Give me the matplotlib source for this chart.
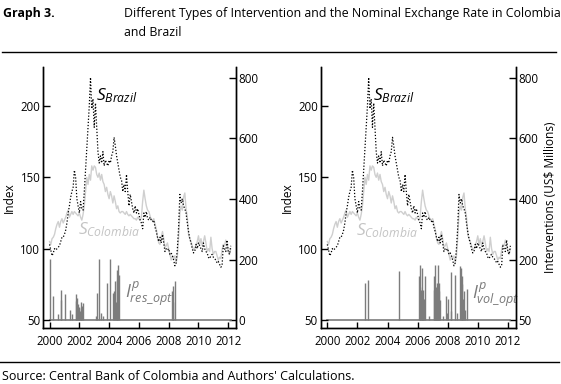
import numpy as np
import matplotlib
matplotlib.use("Agg")
import matplotlib.pyplot as plt

plt.rcParams['font.family'] = ['Open Sans', 'DejaVu Sans']
plt.rcParams['mathtext.fontset'] = 'custom'
plt.rcParams['mathtext.rm'] = 'Open Sans'
plt.rcParams['mathtext.it'] = 'Open Sans:italic'

# ---------------- data ----------------
brazil = [103, 99, 95, 97, 100, 99, 100, 101, 102, 105, 108, 108,
          110, 113, 118, 125, 130, 136, 140, 143, 155, 150, 135, 130,
          125, 133, 128, 127, 140, 155, 170, 185, 200, 220, 198, 205,
          185, 202, 185, 168, 160, 165, 160, 168, 158, 162, 160, 158,
          162, 160, 165, 168, 178, 172, 165, 160, 155, 150, 148, 140,
          145, 140, 152, 140, 130, 138, 133, 128, 125, 130, 125, 128,
          124, 120, 118, 114, 125, 122, 126, 121, 120, 122, 120, 119,
          120, 115, 112, 108, 105, 108, 104, 110, 104, 98, 100, 99,
          100, 96, 97, 95, 92, 88, 90, 100, 115, 138, 132, 135,
          130, 128, 125, 118, 112, 107, 104, 100, 97, 98, 103, 100,
          104, 102, 100, 98, 104, 100, 98, 97, 94, 93, 95, 96,
          94, 93, 92, 90, 91, 89, 87, 88, 102, 100, 98, 106,
          98, 96, 102]
colombia = [105, 103, 107, 108, 110, 114, 117, 119, 115, 119, 121, 118,
            120, 122, 125, 127, 122, 124, 126, 124, 126, 125, 124, 123,
            125, 122, 120, 124, 130, 140, 150, 145, 152, 148, 158, 155,
            158, 157, 152, 150, 153, 148, 152, 147, 145, 140, 143, 138,
            135, 140, 137, 132, 137, 133, 128, 130, 126, 125, 126, 126,
            125, 124, 126, 124, 123, 124, 123, 122, 121, 121, 120, 122,
            121, 120, 122, 133, 141, 135, 130, 127, 126, 123, 120, 120,
            121, 117, 114, 108, 104, 103, 108, 112, 107, 101, 102, 104,
            100, 96, 92, 95, 93, 95, 90, 95, 108, 125, 130, 127,
            136, 139, 128, 122, 110, 107, 105, 102, 99, 100, 102, 105,
            109, 103, 107, 102, 105, 109, 104, 98, 100, 98, 108, 100,
            96, 98, 98, 95, 92, 94, 93, 99, 103, 102, 106, 104,
            98, 96, 100]
dates = 2000 + np.arange(len(brazil)) / 12.0

res_x = [2000.03, 2000.20, 2000.54, 2000.76, 2000.80, 2001.07, 2001.37, 2001.52,
         2001.75, 2001.80, 2001.86, 2001.93, 2002.00, 2002.04, 2002.09, 2002.14,
         2002.20, 2002.27, 2003.09, 2003.16, 2003.34, 2003.43, 2003.57, 2003.84,
         2004.06, 2004.24, 2004.35, 2004.42, 2004.46, 2004.51, 2004.55, 2004.60,
         2004.64, 2008.23, 2008.28, 2008.32, 2008.41]
res_h = [201, 79, 21, 68, 98, 85, 35, 21,
         86, 62, 73, 52, 43, 30, 59, 40,
         46, 57, 13, 90, 203, 24, 13, 123,
         203, 90, 95, 128, 60, 134, 167, 183,
         150, 95, 60, 112, 130]

vol_x = [2002.50, 2002.70, 2004.78,
         2006.12, 2006.16, 2006.19, 2006.23, 2006.26, 2006.29, 2006.32, 2006.36,
         2006.39, 2006.42, 2006.47, 2006.73,
         2007.08, 2007.12, 2007.15, 2007.18, 2007.21, 2007.25, 2007.28, 2007.31,
         2007.34, 2007.38, 2007.41, 2007.45, 2007.50, 2007.67, 2007.87, 2007.93,
         2008.02, 2008.19, 2008.25, 2008.51, 2008.62, 2008.82, 2008.91, 2008.94,
         2008.97, 2009.02, 2009.08, 2009.14, 2009.27]
vol_h = [121, 131, 163,
         145, 183, 110, 99, 90, 172, 60, 70,
         100, 70, 145, 15,
         145, 100, 183, 80, 96, 110, 122, 90,
         183, 70, 96, 122, 68, 15, 79, 25,
         70, 160, 30, 150, 25, 180, 172, 120,
         145, 70, 96, 35, 103]

left_ticks = [50, 100, 150, 200]
right_ticks = [0, 200, 400, 600, 800]
right_labels_a = ['0', '200', '400', '600', '800']
right_labels_b = ['50', '200', '400', '600', '800']
year_ticks = [2000, 2002, 2004, 2006, 2008, 2010, 2012]

# ---------------- figure ----------------
W, H = 561, 384
fig = plt.figure(figsize=(W / 100, H / 100), dpi=100)


def fx(px):
    return px / W


def fy(py):
    return 1 - py / H


BAR_C = '#7c7c7c'
COL_C = '#cfcfcf'


def panel(x0, x1, bx, bh, rlabels, ilabel, ipos, sb_pos, sc_pos, right_ylabel):
    ax = fig.add_axes([fx(x0), fy(328), fx(x1 - x0), (328 - 67) / H])
    ax2 = ax.twinx()
    ax.set_zorder(ax2.get_zorder() + 1)
    ax.patch.set_visible(False)

    ax2.plot(dates, np.zeros_like(dates), color=BAR_C, lw=1.2)
    ax2.vlines(bx, 0, bh, color=BAR_C, lw=1.0)

    ax.plot(dates, colombia, color=COL_C, lw=1.0)
    ax.plot(dates, brazil, color='black', lw=0.9, ls=(0, (1.0, 1.5)))

    ax.set_xlim(1999.56, 2012.52)
    ax.set_ylim(44.4, 227.3)
    ax2.set_ylim(-26, 836)

    for a in (ax, ax2):
        a.spines['top'].set_visible(False)
        for s in a.spines.values():
            s.set_linewidth(1.0)
    ax.set_yticks(left_ticks)
    ax.set_xticks(year_ticks)
    ax2.set_yticks(right_ticks)
    ax2.set_yticklabels(rlabels)
    ax.tick_params(axis='both', direction='in', length=5, width=1.0,
                   labelsize=8.3, pad=2)
    ax.tick_params(axis='x', length=4, pad=5)
    ax2.tick_params(axis='y', direction='in', length=5, width=1.0,
                    labelsize=8.3, pad=2)
    ax.set_ylabel('Index', fontsize=8.6, labelpad=3)
    if right_ylabel:
        ax2.set_ylabel('Interventions (US$ Millions)', fontsize=8.6, labelpad=4)

    ax.text(sb_pos[0], sb_pos[1], r'$S_{Brazil}$', fontsize=12.5,
            color='black', ha='left', va='baseline')
    ax.text(sc_pos[0], sc_pos[1], r'$S_{Colombia}$', fontsize=12.5,
            color='#c4c4c4', ha='left', va='baseline')
    ax2.text(ipos[0], ipos[1], ilabel, fontsize=13, color='#7a7a7a',
             ha='left', va='baseline', clip_on=False)
    return ax, ax2


panel(43, 236, res_x, res_h, right_labels_a, r'$I^{p}_{res\_opt}$',
      (2005.06, 72), (2003.14, 204), (2001.93, 110.3), False)
panel(320.7, 515.7, vol_x, vol_h, right_labels_b, r'$I^{p}_{vol\_opt}$',
      (2009.61, 66), (2003.01, 204), (2001.88, 109.6), True)

# titles and rules
fig.text(fx(3), fy(14), 'Graph 3.', fontsize=8.9, fontweight='bold',
         ha='left', va='center')
fig.text(fx(124), fy(14), 'Different Types of Intervention and the Nominal Exchange Rate in Colombia',
         fontsize=8.9, ha='left', va='center')
fig.text(fx(124), fy(33), 'and Brazil', fontsize=8.9, ha='left', va='center')
fig.add_artist(plt.Line2D([fx(2), fx(556)], [fy(52), fy(52)], color='black', lw=1.0))
fig.add_artist(plt.Line2D([fx(0), fx(559)], [fy(362), fy(362)], color='black', lw=1.0))
fig.text(fx(2), fy(376), "Source: Central Bank of Colombia and Authors' Calculations.",
         fontsize=9.0, ha='left', va='center')

fig.savefig('out.png', dpi=100)
